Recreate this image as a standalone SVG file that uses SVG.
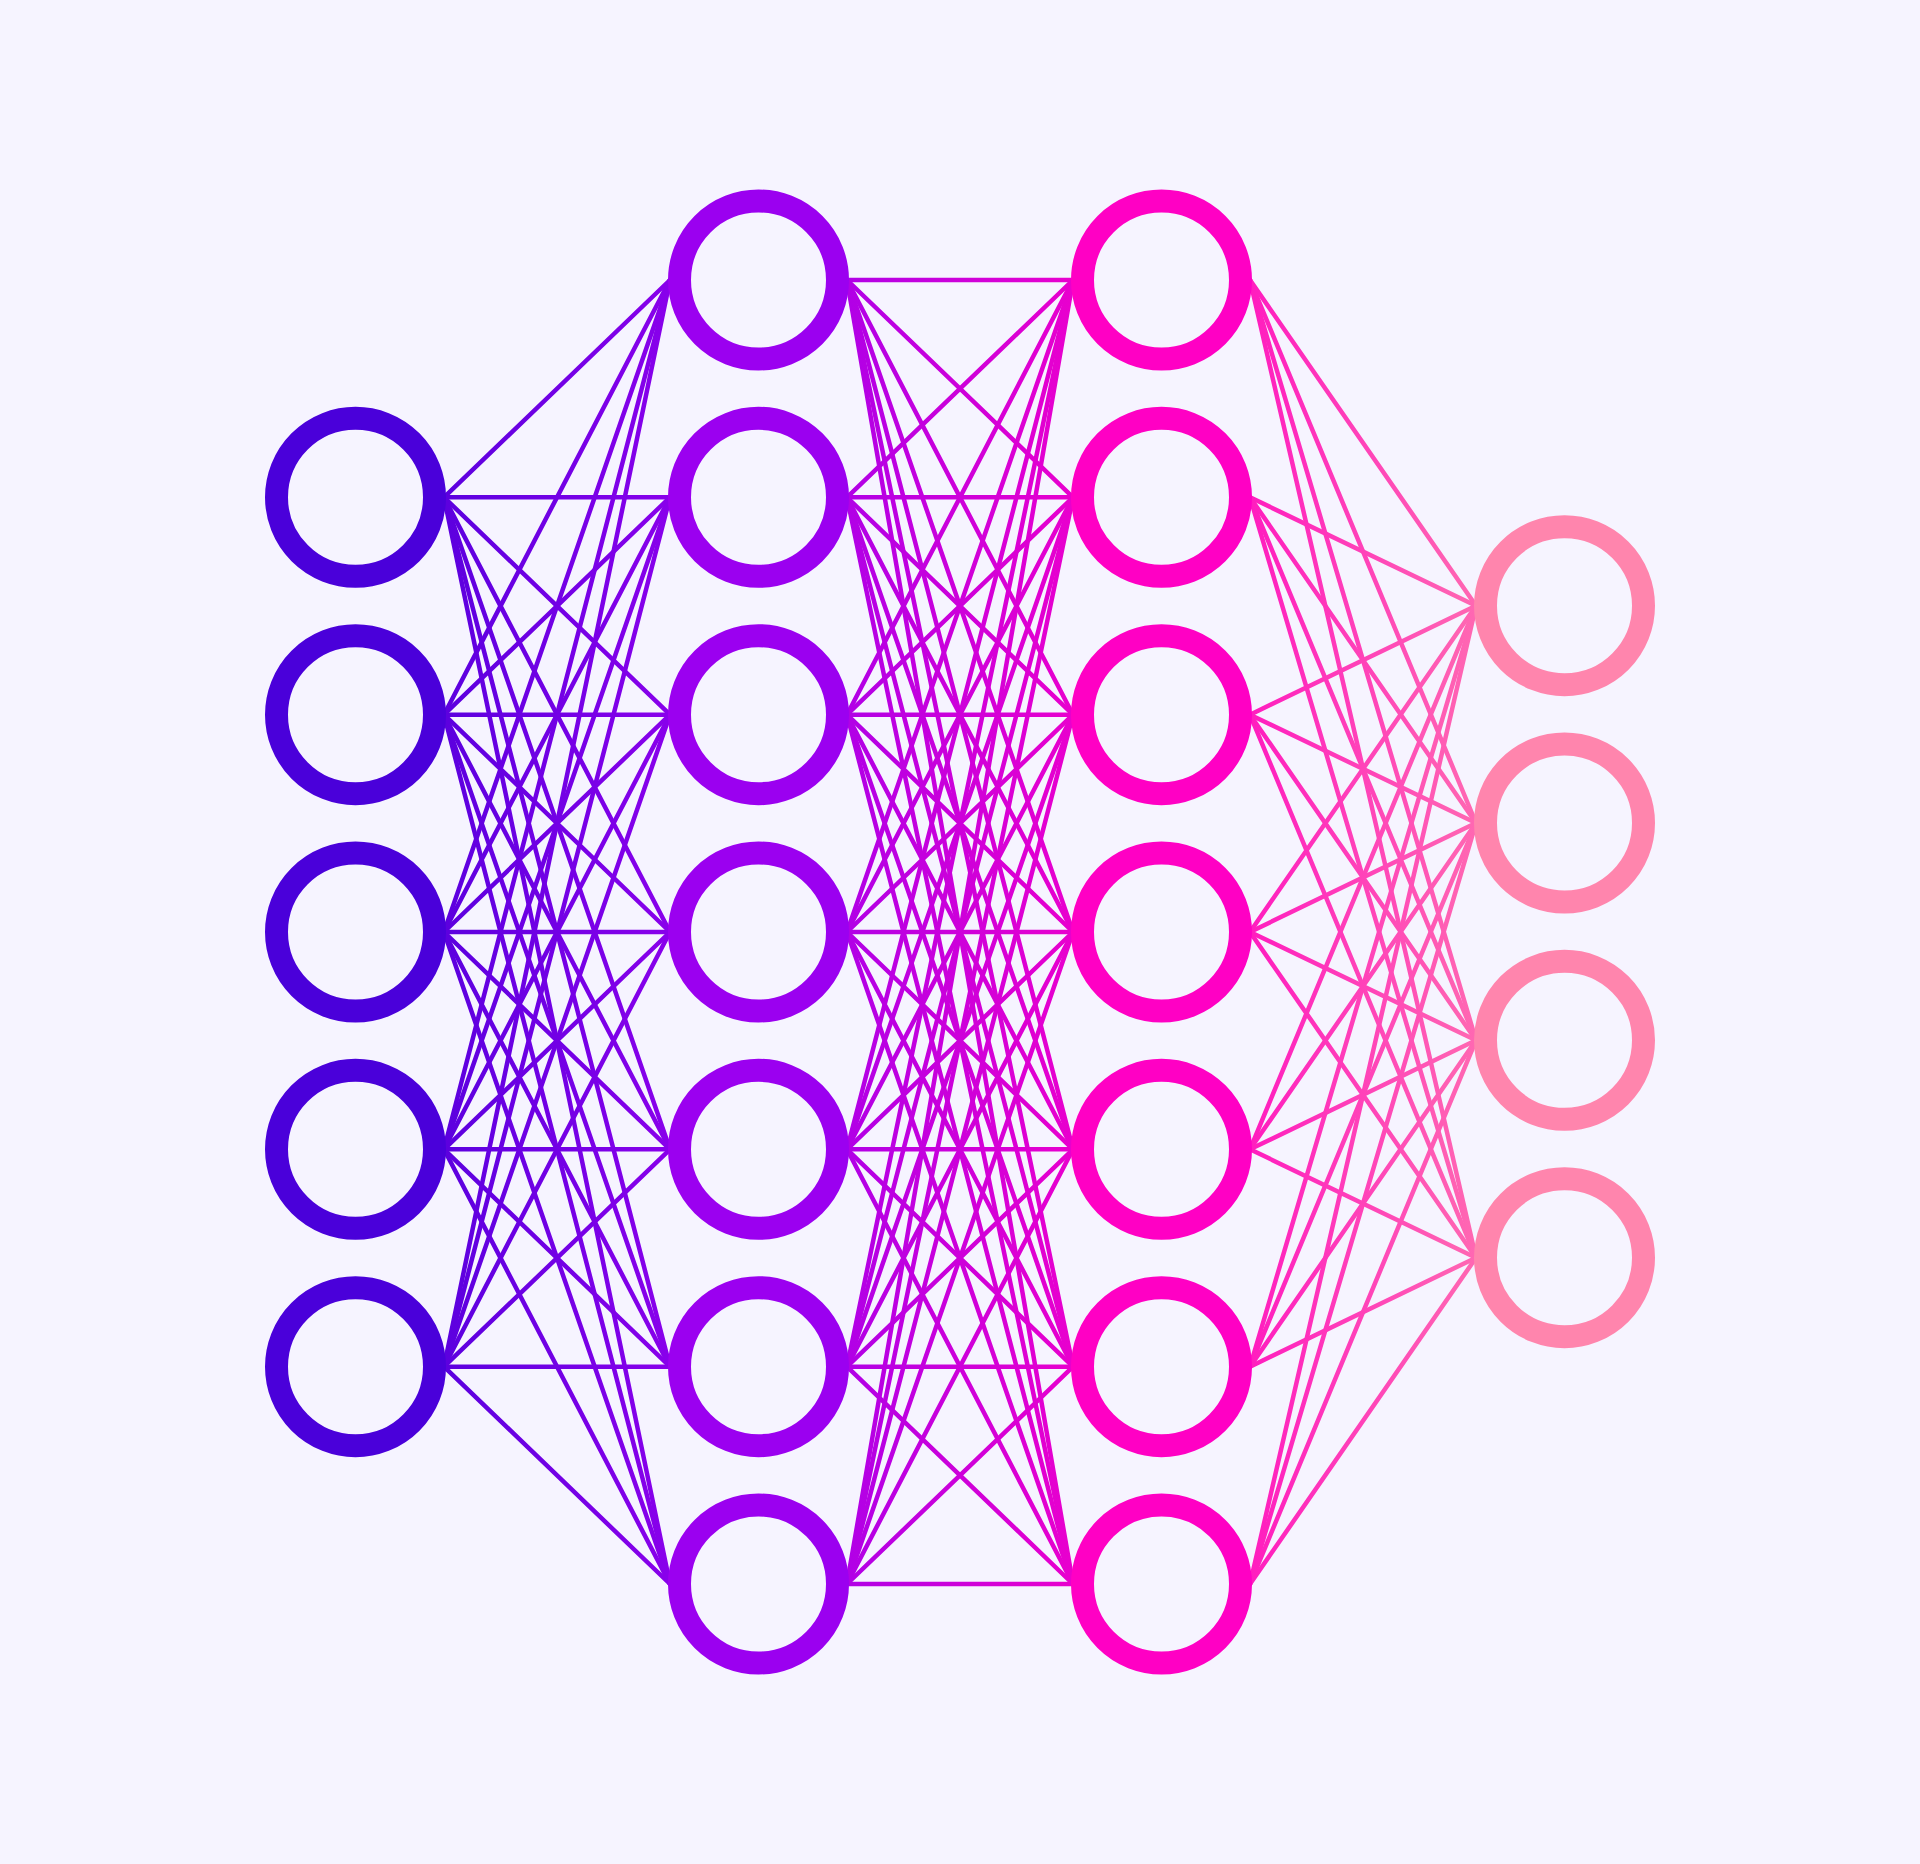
<svg xmlns="http://www.w3.org/2000/svg" width="1920" height="1864" viewBox="0 0 1920 1864">
<defs>
<linearGradient id="g" gradientUnits="userSpaceOnUse" x1="355.5" y1="0" x2="1564.5" y2="0">
<stop offset="0" stop-color="#4A00DA"/>
<stop offset="0.333" stop-color="#9B00F0"/>
<stop offset="0.667" stop-color="#FF00C4"/>
<stop offset="1" stop-color="#FF85AD"/>
</linearGradient>
<style>
.e line{stroke:url(#g);stroke-width:4.5;stroke-linecap:round}
.n{fill:none;stroke-width:23}
.l1{stroke:#4A00DA}.l2{stroke:#9B00F0}.l3{stroke:#FF00C4}.l4{stroke:#FF85AD}
</style>
</defs>
<rect width="1920" height="1864" fill="#F6F4FF"/>
<g id="connectors" class="e">
<line x1="444" y1="497.3" x2="670" y2="280"/><line x1="444" y1="497.3" x2="670" y2="497.3"/><line x1="444" y1="497.3" x2="670" y2="714.7"/><line x1="444" y1="497.3" x2="670" y2="932"/><line x1="444" y1="497.3" x2="670" y2="1149.3"/><line x1="444" y1="497.3" x2="670" y2="1366.7"/><line x1="444" y1="497.3" x2="670" y2="1584"/>
<line x1="444" y1="714.7" x2="670" y2="280"/><line x1="444" y1="714.7" x2="670" y2="497.3"/><line x1="444" y1="714.7" x2="670" y2="714.7"/><line x1="444" y1="714.7" x2="670" y2="932"/><line x1="444" y1="714.7" x2="670" y2="1149.3"/><line x1="444" y1="714.7" x2="670" y2="1366.7"/><line x1="444" y1="714.7" x2="670" y2="1584"/>
<line x1="444" y1="932" x2="670" y2="280"/><line x1="444" y1="932" x2="670" y2="497.3"/><line x1="444" y1="932" x2="670" y2="714.7"/><line x1="444" y1="932" x2="670" y2="932"/><line x1="444" y1="932" x2="670" y2="1149.3"/><line x1="444" y1="932" x2="670" y2="1366.7"/><line x1="444" y1="932" x2="670" y2="1584"/>
<line x1="444" y1="1149.3" x2="670" y2="280"/><line x1="444" y1="1149.3" x2="670" y2="497.3"/><line x1="444" y1="1149.3" x2="670" y2="714.7"/><line x1="444" y1="1149.3" x2="670" y2="932"/><line x1="444" y1="1149.3" x2="670" y2="1149.3"/><line x1="444" y1="1149.3" x2="670" y2="1366.7"/><line x1="444" y1="1149.3" x2="670" y2="1584"/>
<line x1="444" y1="1366.7" x2="670" y2="280"/><line x1="444" y1="1366.7" x2="670" y2="497.3"/><line x1="444" y1="1366.7" x2="670" y2="714.7"/><line x1="444" y1="1366.7" x2="670" y2="932"/><line x1="444" y1="1366.7" x2="670" y2="1149.3"/><line x1="444" y1="1366.7" x2="670" y2="1366.7"/><line x1="444" y1="1366.7" x2="670" y2="1584"/>

<line x1="847" y1="280" x2="1073" y2="280"/><line x1="847" y1="280" x2="1073" y2="497.3"/><line x1="847" y1="280" x2="1073" y2="714.7"/><line x1="847" y1="280" x2="1073" y2="932"/><line x1="847" y1="280" x2="1073" y2="1149.3"/><line x1="847" y1="280" x2="1073" y2="1366.7"/><line x1="847" y1="280" x2="1073" y2="1584"/>
<line x1="847" y1="497.3" x2="1073" y2="280"/><line x1="847" y1="497.3" x2="1073" y2="497.3"/><line x1="847" y1="497.3" x2="1073" y2="714.7"/><line x1="847" y1="497.3" x2="1073" y2="932"/><line x1="847" y1="497.3" x2="1073" y2="1149.3"/><line x1="847" y1="497.3" x2="1073" y2="1366.7"/><line x1="847" y1="497.3" x2="1073" y2="1584"/>
<line x1="847" y1="714.7" x2="1073" y2="280"/><line x1="847" y1="714.7" x2="1073" y2="497.3"/><line x1="847" y1="714.7" x2="1073" y2="714.7"/><line x1="847" y1="714.7" x2="1073" y2="932"/><line x1="847" y1="714.7" x2="1073" y2="1149.3"/><line x1="847" y1="714.7" x2="1073" y2="1366.7"/><line x1="847" y1="714.7" x2="1073" y2="1584"/>
<line x1="847" y1="932" x2="1073" y2="280"/><line x1="847" y1="932" x2="1073" y2="497.3"/><line x1="847" y1="932" x2="1073" y2="714.7"/><line x1="847" y1="932" x2="1073" y2="932"/><line x1="847" y1="932" x2="1073" y2="1149.3"/><line x1="847" y1="932" x2="1073" y2="1366.7"/><line x1="847" y1="932" x2="1073" y2="1584"/>
<line x1="847" y1="1149.3" x2="1073" y2="280"/><line x1="847" y1="1149.3" x2="1073" y2="497.3"/><line x1="847" y1="1149.3" x2="1073" y2="714.7"/><line x1="847" y1="1149.3" x2="1073" y2="932"/><line x1="847" y1="1149.3" x2="1073" y2="1149.3"/><line x1="847" y1="1149.3" x2="1073" y2="1366.7"/><line x1="847" y1="1149.3" x2="1073" y2="1584"/>
<line x1="847" y1="1366.7" x2="1073" y2="280"/><line x1="847" y1="1366.7" x2="1073" y2="497.3"/><line x1="847" y1="1366.7" x2="1073" y2="714.7"/><line x1="847" y1="1366.7" x2="1073" y2="932"/><line x1="847" y1="1366.7" x2="1073" y2="1149.3"/><line x1="847" y1="1366.7" x2="1073" y2="1366.7"/><line x1="847" y1="1366.7" x2="1073" y2="1584"/>
<line x1="847" y1="1584" x2="1073" y2="280"/><line x1="847" y1="1584" x2="1073" y2="497.3"/><line x1="847" y1="1584" x2="1073" y2="714.7"/><line x1="847" y1="1584" x2="1073" y2="932"/><line x1="847" y1="1584" x2="1073" y2="1149.3"/><line x1="847" y1="1584" x2="1073" y2="1366.7"/><line x1="847" y1="1584" x2="1073" y2="1584"/>

<line x1="1250" y1="280" x2="1476" y2="605.7"/><line x1="1250" y1="280" x2="1476" y2="823"/><line x1="1250" y1="280" x2="1476" y2="1040.3"/><line x1="1250" y1="280" x2="1476" y2="1257.7"/>
<line x1="1250" y1="497.3" x2="1476" y2="605.7"/><line x1="1250" y1="497.3" x2="1476" y2="823"/><line x1="1250" y1="497.3" x2="1476" y2="1040.3"/><line x1="1250" y1="497.3" x2="1476" y2="1257.7"/>
<line x1="1250" y1="714.7" x2="1476" y2="605.7"/><line x1="1250" y1="714.7" x2="1476" y2="823"/><line x1="1250" y1="714.7" x2="1476" y2="1040.3"/><line x1="1250" y1="714.7" x2="1476" y2="1257.7"/>
<line x1="1250" y1="932" x2="1476" y2="605.7"/><line x1="1250" y1="932" x2="1476" y2="823"/><line x1="1250" y1="932" x2="1476" y2="1040.3"/><line x1="1250" y1="932" x2="1476" y2="1257.7"/>
<line x1="1250" y1="1149.3" x2="1476" y2="605.7"/><line x1="1250" y1="1149.3" x2="1476" y2="823"/><line x1="1250" y1="1149.3" x2="1476" y2="1040.3"/><line x1="1250" y1="1149.3" x2="1476" y2="1257.7"/>
<line x1="1250" y1="1366.7" x2="1476" y2="605.7"/><line x1="1250" y1="1366.7" x2="1476" y2="823"/><line x1="1250" y1="1366.7" x2="1476" y2="1040.3"/><line x1="1250" y1="1366.7" x2="1476" y2="1257.7"/>
<line x1="1250" y1="1584" x2="1476" y2="605.7"/><line x1="1250" y1="1584" x2="1476" y2="823"/><line x1="1250" y1="1584" x2="1476" y2="1040.3"/><line x1="1250" y1="1584" x2="1476" y2="1257.7"/>
</g>
<g id="layer1">
<g id="n1-1"><circle class="n l1" cx="355.5" cy="497.3" r="79"/></g>
<g id="n1-2"><circle class="n l1" cx="355.5" cy="714.7" r="79"/></g>
<g id="n1-3"><circle class="n l1" cx="355.5" cy="932" r="79"/></g>
<g id="n1-4"><circle class="n l1" cx="355.5" cy="1149.3" r="79"/></g>
<g id="n1-5"><circle class="n l1" cx="355.5" cy="1366.7" r="79"/></g>
</g>
<g id="layer2">
<g id="n2-1"><circle class="n l2" cx="758.5" cy="280" r="79"/></g>
<g id="n2-2"><circle class="n l2" cx="758.5" cy="497.3" r="79"/></g>
<g id="n2-3"><circle class="n l2" cx="758.5" cy="714.7" r="79"/></g>
<g id="n2-4"><circle class="n l2" cx="758.5" cy="932" r="79"/></g>
<g id="n2-5"><circle class="n l2" cx="758.5" cy="1149.3" r="79"/></g>
<g id="n2-6"><circle class="n l2" cx="758.5" cy="1366.7" r="79"/></g>
<g id="n2-7"><circle class="n l2" cx="758.5" cy="1584" r="79"/></g>
</g>
<g id="layer3">
<g id="n3-1"><circle class="n l3" cx="1161.5" cy="280" r="79"/></g>
<g id="n3-2"><circle class="n l3" cx="1161.5" cy="497.3" r="79"/></g>
<g id="n3-3"><circle class="n l3" cx="1161.5" cy="714.7" r="79"/></g>
<g id="n3-4"><circle class="n l3" cx="1161.5" cy="932" r="79"/></g>
<g id="n3-5"><circle class="n l3" cx="1161.5" cy="1149.3" r="79"/></g>
<g id="n3-6"><circle class="n l3" cx="1161.5" cy="1366.7" r="79"/></g>
<g id="n3-7"><circle class="n l3" cx="1161.5" cy="1584" r="79"/></g>
</g>
<g id="layer4">
<g id="n4-1"><circle class="n l4" cx="1564.5" cy="605.7" r="79"/></g>
<g id="n4-2"><circle class="n l4" cx="1564.5" cy="823" r="79"/></g>
<g id="n4-3"><circle class="n l4" cx="1564.5" cy="1040.3" r="79"/></g>
<g id="n4-4"><circle class="n l4" cx="1564.5" cy="1257.7" r="79"/></g>
</g>
</svg>
